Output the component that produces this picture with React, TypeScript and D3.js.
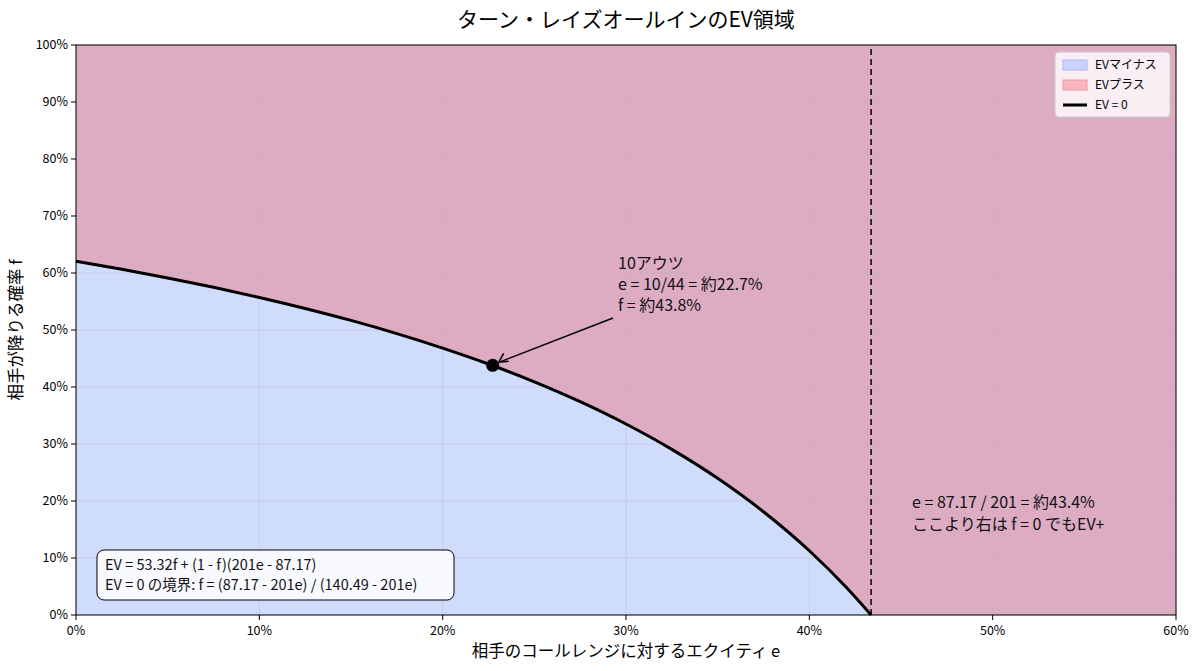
import * as d3 from 'd3';

// boundary EV = 0
const curveE = [0, 0.025, 0.05, 0.075, 0.1, 0.125, 0.15, 0.175, 0.2, 0.225, 0.25, 0.275, 0.3, 0.325, 0.35, 0.375, 0.4, 0.42, 0.4337];
const curveF = [0.6205, 0.6064, 0.5912, 0.5749, 0.5571, 0.5378, 0.5168, 0.4937, 0.4683, 0.4403, 0.4091, 0.3743, 0.3351, 0.2906, 0.2398, 0.1811, 0.1127, 0.049, 0];
const xTicks = [0, 0.1, 0.2, 0.3, 0.4, 0.5, 0.6];
const yTicks = [0, 0.1, 0.2, 0.3, 0.4, 0.5, 0.6, 0.7, 0.8, 0.9, 1];
const breakEven = 0.4337;
const point = { e: 10 / 44, f: 0.438 };
const legendItems = ['EVマイナス', 'EVプラス', 'EV = 0'];

const W = 1200, H = 671;
const m = { left: 76, right: 24, top: 45, bottom: 56 };
const font = '"Noto Sans CJK JP", "Noto Sans", sans-serif';

export default function App() {
	const x = d3.scaleLinear().domain([0, 0.6]).range([m.left, W - m.right]);
	const y = d3.scaleLinear().domain([0, 1]).range([H - m.bottom, m.top]);
	const pts = curveE.map((e, i) => ({ e, f: curveF[i] }));
	const line = d3.line<{ e: number; f: number }>().x((d) => x(d.e)).y((d) => y(d.f)).curve(d3.curveMonotoneX);
	const area = d3.area<{ e: number; f: number }>().x((d) => x(d.e)).y0(y(0)).y1((d) => y(d.f)).curve(d3.curveMonotoneX);
	const pct = d3.format('.0%');
	const px = x(point.e), py = y(point.f);
	return (
		<svg width={W} height={H} style={{ position: 'absolute', left: 0, top: 0 }} fontFamily={font}>
			<rect width={W} height={H} fill="white" />
			<rect x={x(0)} y={y(1)} width={x(0.6) - x(0)} height={y(0) - y(1)} fill="#ddacc3" />
			<path d={area(pts)!} fill="#d0dcfb" />
			{xTicks.map((t) => (
				<line key={'gx' + t} x1={x(t)} x2={x(t)} y1={y(0)} y2={y(1)} stroke="#b0b0b0" strokeOpacity={0.3} />
			))}
			{yTicks.map((t) => (
				<line key={'gy' + t} x1={x(0)} x2={x(0.6)} y1={y(t)} y2={y(t)} stroke="#b0b0b0" strokeOpacity={0.3} />
			))}
			<line x1={x(breakEven)} x2={x(breakEven)} y1={y(0)} y2={y(1)} stroke="#222" strokeWidth={1.8} strokeDasharray="6,4" />
			<path d={line(pts)!} fill="none" stroke="black" strokeWidth={3} />
			<circle cx={px} cy={py} r={6.5} fill="black" />
			<line x1={613} y1={318} x2={px + 6} y2={py - 3} stroke="black" strokeWidth={1.5} />
			<path d={`M${px + 6},${py - 3} l10,-1 M${px + 6},${py - 3} l5,-9`} stroke="black" strokeWidth={1.5} fill="none" />
			<g fontSize={16} fill="#111">
				<text x={618} y={269}>10アウツ</text>
				<text x={618} y={290}>e = 10/44 = 約22.7%</text>
				<text x={618} y={311}>f = 約43.8%</text>
				<text x={912} y={508}>e = 87.17 / 201 = 約43.4%</text>
				<text x={912} y={530}>ここより右は f = 0 でもEV+</text>
			</g>
			<rect x={97} y={550} width={357} height={50} rx={7} fill="white" fillOpacity={0.85} stroke="black" />
			<g fontSize={14.5} fill="#111">
				<text x={105} y={570}>EV = 53.32f + (1 - f)(201e - 87.17)</text>
				<text x={105} y={590}>EV = 0 の境界:  f = (87.17 - 201e) / (140.49 - 201e)</text>
			</g>
			<rect x={x(0)} y={y(1)} width={x(0.6) - x(0)} height={y(0) - y(1)} fill="none" stroke="black" />
			{xTicks.map((t) => (
				<g key={'tx' + t} transform={`translate(${x(t)},${y(0)})`}>
					<line y2={5} stroke="black" />
					<text y={20} textAnchor="middle" fontSize={12.5}>{pct(t)}</text>
				</g>
			))}
			{yTicks.map((t) => (
				<g key={'ty' + t} transform={`translate(${x(0)},${y(t)})`}>
					<line x2={-5} stroke="black" />
					<text x={-8} dy="0.35em" textAnchor="end" fontSize={12.5}>{pct(t)}</text>
				</g>
			))}
			<text x={(x(0) + x(0.6)) / 2} y={27} textAnchor="middle" fontSize={21}>ターン・レイズオールインのEV領域</text>
			<text x={(x(0) + x(0.6)) / 2} y={657} textAnchor="middle" fontSize={16.5}>相手のコールレンジに対するエクイティ e</text>
			<text transform={`translate(22,${(y(0) + y(1)) / 2}) rotate(-90)`} textAnchor="middle" fontSize={16.5}>相手が降りる確率 f</text>
			<g transform="translate(1055,52)">
				<rect width={115} height={65} rx={4} fill="white" fillOpacity={0.8} stroke="#ccc" />
				{legendItems.map((l, i) => (
					<g key={l} transform={`translate(8,${13 + i * 20})`}>
						{i < 2 ? (
							<rect x={0} y={-5} width={24} height={10} fill={i === 0 ? '#c9d3fb' : '#f8b8c0'} stroke={i === 0 ? '#a9b8f5' : '#f09aa5'} />
						) : (
							<line x1={0} x2={24} stroke="black" strokeWidth={3} />
						)}
						<text x={32} dy="0.35em" fontSize={12}>{l}</text>
					</g>
				))}
			</g>
		</svg>
	);
}
